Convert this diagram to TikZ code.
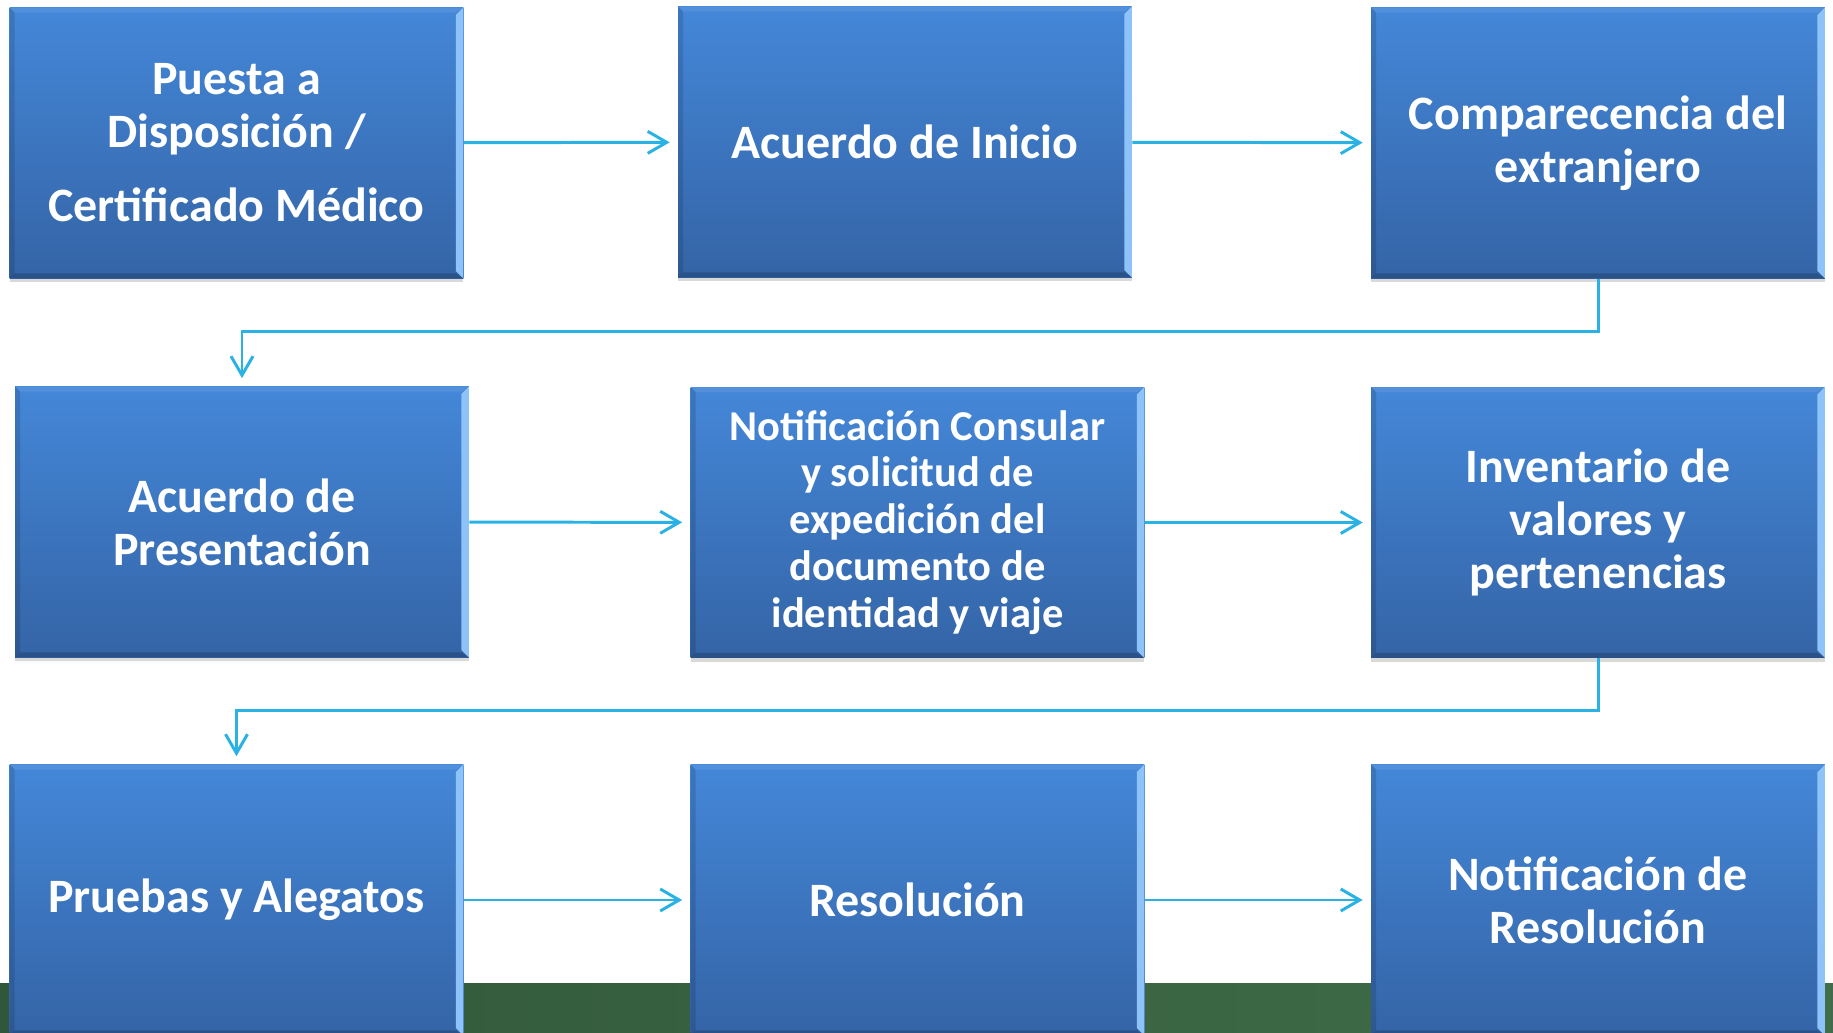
\documentclass[tikz,border=0pt]{standalone}
\usepackage{fontspec}
\setmainfont{Carlito}
\usepackage{tikz}
\usetikzlibrary{arrows.meta}
\usetikzlibrary{shadows}
\usetikzlibrary{positioning}
\definecolor{boxtop}{HTML}{4487D8}
\definecolor{boxbot}{HTML}{3464A6}
\definecolor{bevelhi}{HTML}{8EC3FA}
\definecolor{linkblue}{HTML}{2AB2E4}
\definecolor{grassleft}{HTML}{30573A}
\definecolor{grassright}{HTML}{416E49}
\tikzset{stage/.style = {rectangle, minimum width=9.08cm, minimum height=5.42cm,
                         top color=boxtop, bottom color=boxbot, text=white, align=center,
                         font=\bfseries\fontsize{27.3}{30.2}\selectfont,
                         drop shadow={shadow xshift=0pt, shadow yshift=-0.08cm, opacity=0.3},
                         path picture={
                           \fill [bevelhi] (path picture bounding box.north east) -- (path picture bounding box.south east)
                             -- ([shift={(-0.15cm,0.15cm)}]path picture bounding box.south east)
                             -- ([shift={(-0.15cm,-0.15cm)}]path picture bounding box.north east) -- cycle;
                           \fill [black, opacity=0.18] (path picture bounding box.south west) -- (path picture bounding box.south east)
                             -- ([shift={(-0.15cm,0.1cm)}]path picture bounding box.south east)
                             -- ([shift={(0.1cm,0.1cm)}]path picture bounding box.south west) -- cycle;
                           \fill [black, opacity=0.12] (path picture bounding box.south west) -- (path picture bounding box.north west)
                             -- ([shift={(0.1cm,-0.1cm)}]path picture bounding box.north west)
                             -- ([shift={(0.1cm,0.1cm)}]path picture bounding box.south west) -- cycle;
                           \fill [white, opacity=0.08] (path picture bounding box.north west) -- (path picture bounding box.north east)
                             -- ([shift={(-0.15cm,-0.1cm)}]path picture bounding box.north east)
                             -- ([shift={(0.1cm,-0.1cm)}]path picture bounding box.north west) -- cycle;
                         }},
        small/.style = {font=\bfseries\fontsize{24.2}{26.7}\selectfont},
        link/.style = {draw=linkblue, line width=1.7pt, shorten >=0.16cm,
                       -{Straight Barb[length=0.38cm, width=0.44cm]}}}

\begin{document}
\begin{tikzpicture}[x=0.02cm, y=-0.02cm]
    \useasboundingbox (0, 0) rectangle (1833, 1033);
    \shade [left color=grassleft, right color=grassright] (0, 983) rectangle (1833, 1033);

    \node [stage] (b1) at (236.5, 143) {Puesta a\\ Disposición /\\[0.42cm] Certificado Médico};
    \node [stage] (b2) at (905, 142) {Acuerdo de Inicio};
    \node [stage] (b3) at (1598, 143) {Comparecencia del\\ extranjero};
    \node [stage] (b4) at (242, 522) {Acuerdo de\\ Presentación};
    \node [stage, small] (b5) at (917.5, 522.5) {Notificación Consular\\ y solicitud de\\ expedición del\\ documento de\\ identidad y viaje};
    \node [stage] (b6) at (1598, 522.5) {Inventario de\\ valores y\\ pertenencias};
    \node [stage] (b7) at (236.5, 900) {Pruebas y Alegatos};
    \node [stage] (b8) at (917.5, 900) {Resolución};
    \node [stage] (b9) at (1598, 900) {Notificación de\\ Resolución};

    \draw [link] (b1) -- (b2);
    \draw [link] (b2) -- (b3);
    \draw [link] (b3.south) -- ++(0, -1.05cm) -| (b4.north);
    \draw [link] (b4) -- (b5);
    \draw [link] (b5) -- (b6);
    \draw [link] (b6.south) -- ++(0, -1.04cm) -| (b7.north);
    \draw [link] (b7) -- (b8);
    \draw [link] (b8) -- (b9);
\end{tikzpicture}
\end{document}
